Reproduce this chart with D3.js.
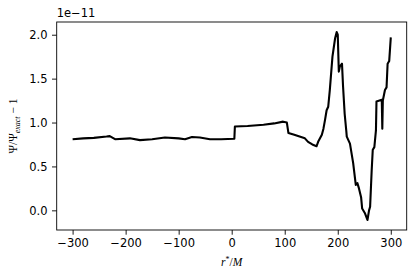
<!DOCTYPE html>
<html>
<head>
<meta charset="utf-8">
<script src="https://cdn.jsdelivr.net/npm/d3@7"></script>
<style>
  body { margin: 0; background: #fff; }
  svg { display: block; }
  .tick text { font-family: "DejaVu Sans", sans-serif; font-size: 11.5px; fill: #000; }
  .tick line { stroke: #000; stroke-width: 0.9; }
</style>
</head>
<body>
<svg id="chart" width="416" height="280"></svg>
<script>
// r*/M positions
const rStar = [-300, -280, -260, -236, -230, -220, -192, -173, -150, -126, -100, -88, -75, -60, -41, -20, 5,
  6, 30, 60, 80, 97, 104, 107, 118, 128, 138, 144, 152, 160, 163, 170, 173, 176, 179, 182, 185, 190, 195,
  198, 200, 202, 204, 208, 210, 213, 216, 217, 223, 229, 234, 237, 240, 244, 246, 251, 256, 259, 261,
  264, 266, 269, 272, 273, 283, 284, 285, 289, 292, 294, 297, 300];
// Psi/Psi_exact - 1, in units of 1e-11
const ratio = [0.81, 0.82, 0.825, 0.84, 0.845, 0.81, 0.82, 0.80, 0.81, 0.83, 0.82, 0.81, 0.835, 0.83, 0.81, 0.81, 0.815,
  0.955, 0.96, 0.975, 0.99, 1.01, 1.0, 0.88, 0.86, 0.84, 0.82, 0.78, 0.75, 0.73, 0.78, 0.86, 0.93, 1.03, 1.14, 1.18, 1.37, 1.75, 1.96,
  2.03, 2.0, 1.58, 1.64, 1.67, 1.41, 1.10, 0.91, 0.84, 0.76, 0.54, 0.29, 0.31, 0.25, 0.15, 0.02, -0.03, -0.11, 0.0, 0.04,
  0.46, 0.69, 0.72, 0.91, 1.24, 1.26, 0.93, 1.25, 1.37, 1.40, 1.67, 1.70, 1.97];
const xTicks = [-300, -200, -100, 0, 100, 200, 300];
const yTicks = [0.0, 0.5, 1.0, 1.5, 2.0];

const svg = d3.select("#chart");
const margin = { top: 22, right: 9.3, bottom: 50, left: 56.7 };
const width = 416, height = 280;

const x = d3.scaleLinear().domain([-330, 330]).range([margin.left, width - margin.right]);
const y = d3.scaleLinear().domain([-0.224, 2.145]).range([height - margin.bottom, margin.top]);

const data = rStar.map((r, i) => ({ r: r, v: ratio[i] }));

svg.append("path")
  .datum(data)
  .attr("fill", "none")
  .attr("stroke", "#000")
  .attr("stroke-width", 2.1)
  .attr("stroke-linejoin", "round")
  .attr("d", d3.line().x(d => x(d.r)).y(d => y(d.v)));

// x axis
const gx = svg.append("g")
  .attr("transform", `translate(0,${height - margin.bottom})`)
  .call(d3.axisBottom(x).tickValues(xTicks).tickSize(4.7).tickPadding(4.3)
    .tickFormat(d => d3.format("d")(d).replace("-", "\u2212")));
gx.select(".domain").remove();

// y axis
const gy = svg.append("g")
  .attr("transform", `translate(${margin.left},0)`)
  .call(d3.axisLeft(y).tickValues(yTicks).tickSize(4.7).tickPadding(4.5).tickFormat(d3.format(".1f")));
gy.select(".domain").remove();

// spines
svg.append("rect")
  .attr("x", margin.left).attr("y", margin.top)
  .attr("width", width - margin.right - margin.left)
  .attr("height", height - margin.bottom - margin.top)
  .attr("fill", "none").attr("stroke", "#000").attr("stroke-width", 0.9);

// offset text
svg.append("text")
  .attr("x", margin.left).attr("y", 17)
  .style("font-family", "DejaVu Sans, sans-serif").style("font-size", "11.5px")
  .text("1e\u221211");

// x label
const xl = svg.append("text")
  .attr("x", x(0)).attr("y", 266)
  .attr("text-anchor", "middle")
  .style("font-family", "Liberation Serif, serif").style("font-size", "11.5px");
xl.append("tspan").style("font-style", "italic").text("r");
xl.append("tspan").attr("dy", -4).style("font-size", "8px").text("*");
xl.append("tspan").attr("dy", 4).text("/");
xl.append("tspan").style("font-style", "italic").text("M");

// y label
const yl = svg.append("text")
  .attr("transform", `translate(17,${(margin.top + height - margin.bottom) / 2}) rotate(-90)`)
  .attr("text-anchor", "middle")
  .style("font-family", "Liberation Serif, serif").style("font-size", "11.5px");
yl.append("tspan").text("\u03A8/\u03A8");
yl.append("tspan").attr("dy", 2.5).style("font-size", "8px").style("font-style", "italic").text("exact");
yl.append("tspan").attr("dy", -2.5).text(" \u2212 1");
</script>
</body>
</html>
